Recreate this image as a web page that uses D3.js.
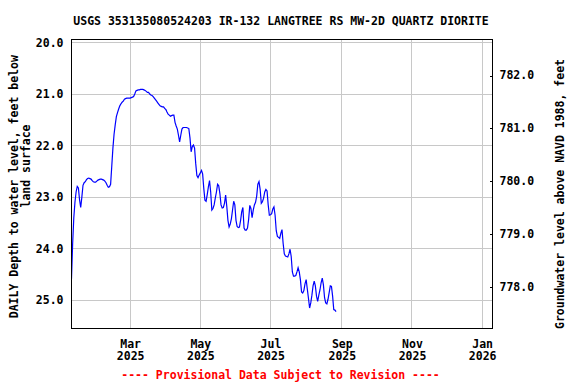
<!DOCTYPE html>
<html>
<head>
<meta charset="utf-8">
<script src="https://cdn.jsdelivr.net/npm/d3@7"></script>
<style>
  html, body { margin: 0; padding: 0; background: #ffffff; }
  svg { display: block; }
  text { font-family: "DejaVu Sans Mono", "Liberation Mono", monospace; font-weight: bold; }
</style>
</head>
<body>
<svg id="chart" width="576" height="384"></svg>
<script>
// ---- data ----
const titleText = "USGS 353135080524203 IR-132 LANGTREE RS MW-2D QUARTZ DIORITE";
const leftLabelLines = ["DAILY Depth to water level, feet below", "land surface"];
const rightLabel = "Groundwater level above NAVD 1988, feet";
const footerText = "---- Provisional Data Subject to Revision ----";

const firstDay = "2025-01-09";      // first daily value
const domainStart = "2025-01-09";
const domainEnd = "2026-01-10";

// daily depth to water (feet below land surface), one per day from firstDay
const depthValues = [
  24.58, 23.90, 23.40, 23.10, 22.90, 22.79, 22.82, 23.05, 23.20, 23.00,
  22.77, 22.72, 22.70, 22.66, 22.64, 22.63, 22.64, 22.65, 22.68, 22.70,
  22.71, 22.71, 22.69, 22.67, 22.66, 22.65, 22.65, 22.66, 22.67, 22.69,
  22.72, 22.77, 22.81, 22.80, 22.75, 22.40, 22.05, 21.78, 21.60, 21.44,
  21.36, 21.29, 21.23, 21.19, 21.16, 21.14, 21.10, 21.09, 21.08, 21.08,
  21.08, 21.08, 21.07, 21.06, 21.05, 21.00, 20.94, 20.93, 20.92, 20.92,
  20.91, 20.91, 20.91, 20.92, 20.93, 20.95, 20.97, 20.97, 21.00, 21.02,
  21.03, 21.05, 21.08, 21.11, 21.14, 21.17, 21.20, 21.23, 21.24, 21.25,
  21.25, 21.28, 21.30, 21.35, 21.39, 21.41, 21.43, 21.42, 21.41, 21.41,
  21.55, 21.62, 21.68, 21.80, 21.93, 21.80, 21.68, 21.65, 21.65, 21.65,
  21.65, 21.66, 21.67, 21.85, 22.12, 22.02, 21.99, 22.05, 22.35, 22.58,
  22.62, 22.57, 22.53, 22.48, 22.55, 22.83, 23.06, 23.08, 22.95, 22.80,
  22.68, 22.90, 23.25, 23.22, 23.15, 23.02, 22.90, 22.75, 22.78, 22.93,
  23.15, 23.21, 23.20, 23.12, 22.96, 23.18, 23.45, 23.58, 23.52, 23.42,
  23.25, 23.08, 23.15, 23.45, 23.57, 23.59, 23.58, 23.45, 23.28, 23.20,
  23.60, 23.64, 23.64, 23.60, 23.43, 23.16, 23.22, 23.40, 23.25, 23.15,
  23.10, 22.98, 22.75, 22.70, 22.85, 23.12, 23.09, 23.02, 22.90, 22.85,
  22.88, 23.15, 23.35, 23.34, 23.32, 23.23, 23.19, 23.35, 23.65, 23.76,
  23.78, 23.80, 23.70, 23.63, 23.90, 24.10, 24.14, 24.15, 24.16, 24.10,
  24.01, 24.15, 24.45, 24.53, 24.53, 24.52, 24.45, 24.37, 24.45, 24.60,
  24.84, 24.86, 24.81, 24.68, 24.60, 24.78, 24.96, 25.15, 25.05, 24.90,
  24.72, 24.63, 24.72, 24.92, 25.02, 24.90, 24.80, 24.66, 24.57, 24.70,
  24.95, 25.05, 25.07, 24.98, 24.85, 24.72, 24.73, 24.92, 25.18, 25.19,
  25.22
];

const depthTicks = [20, 21, 22, 23, 24, 25];
const elevTicks = [778, 779, 780, 781, 782];
const monthTickDates = ["2025-03-01", "2025-05-01", "2025-07-01", "2025-09-01", "2025-11-01", "2026-01-01"];
const monthTickMonths = ["Mar", "May", "Jul", "Sep", "Nov", "Jan"];
const monthTickYears = ["2025", "2025", "2025", "2025", "2025", "2026"];

// ---- layout ----
const plot = { left: 71.5, right: 492.5, top: 39.5, bottom: 328.5 };
const parse = d3.utcParse("%Y-%m-%d");

const x = d3.scaleUtc()
  .domain([parse(domainStart), parse(domainEnd)])
  .range([plot.left, plot.right]);

// depth axis (left): 21.0 -> y 94, 25.0 -> y 300.3
const yDepth = d3.scaleLinear().domain([21, 25]).range([94.0, 300.3]);
// elevation axis (right)
const yElev = d3.scaleLinear().domain([782, 778]).range([75.0, 286.7]);

const series = depthValues.map((v, i) => ({
  date: d3.utcDay.offset(parse(firstDay), i),
  value: v
}));

const svg = d3.select("#chart");
const snap = v => Math.round(v - 0.5) + 0.5;

// gridlines
const grid = svg.append("g").attr("stroke", "#c8c8c8").attr("stroke-width", 1).attr("shape-rendering", "crispEdges");
grid.selectAll("line.h").data(depthTicks).enter().append("line")
  .attr("x1", plot.left).attr("x2", plot.right)
  .attr("y1", d => snap(yDepth(d))).attr("y2", d => snap(yDepth(d)));
grid.selectAll("line.v").data(monthTickDates).enter().append("line")
  .attr("y1", plot.top).attr("y2", plot.bottom)
  .attr("x1", d => snap(x(parse(d)))).attr("x2", d => snap(x(parse(d))));

// data line
const clipId = "plotclip";
svg.append("clipPath").attr("id", clipId).append("rect")
  .attr("x", plot.left).attr("y", plot.top)
  .attr("width", plot.right - plot.left).attr("height", plot.bottom - plot.top);

svg.append("path")
  .datum(series)
  .attr("clip-path", `url(#${clipId})`)
  .attr("fill", "none")
  .attr("stroke", "#0000ff")
  .attr("stroke-width", 1.2)
  .attr("d", d3.line().x(d => x(d.date)).y(d => yDepth(d.value)));

// frame
svg.append("rect")
  .attr("x", plot.left).attr("y", plot.top)
  .attr("width", plot.right - plot.left).attr("height", plot.bottom - plot.top)
  .attr("fill", "none").attr("stroke", "#000").attr("stroke-width", 1)
  .attr("shape-rendering", "crispEdges");

const fs = "11.5px";

// left axis
const leftAxis = svg.append("g").attr("transform", `translate(${plot.left},0)`)
  .call(d3.axisLeft(yDepth).tickValues(depthTicks).tickSize(0).tickPadding(8).tickFormat(d3.format(".1f")));
leftAxis.select(".domain").remove();
leftAxis.selectAll("text").style("font-size", fs).attr("fill", "#000")
  .attr("font-family", "DejaVu Sans Mono").attr("font-weight", "bold");

// right axis (ticks pointing inward)
const rightAxis = svg.append("g").attr("transform", `translate(${plot.right},0)`)
  .call(d3.axisRight(yElev).tickValues(elevTicks).tickSize(0).tickPadding(7).tickFormat(d3.format(".1f")));
rightAxis.select(".domain").remove();
rightAxis.selectAll(".tick line").remove();
rightAxis.selectAll(".tick").append("line")
  .attr("x1", -3).attr("x2", 0).attr("y1", 0.5).attr("y2", 0.5)
  .attr("stroke", "#000").attr("shape-rendering", "crispEdges");
rightAxis.selectAll("text").style("font-size", fs).attr("fill", "#000")
  .attr("font-family", "DejaVu Sans Mono").attr("font-weight", "bold");

// bottom axis: two-line labels
const bottomAxis = svg.append("g").attr("transform", `translate(0,${plot.bottom})`)
  .call(d3.axisBottom(x).tickValues(monthTickDates.map(parse)).tickSize(0).tickFormat(""));
bottomAxis.select(".domain").remove();
bottomAxis.selectAll(".tick text").remove();
bottomAxis.selectAll(".tick").each(function(d, i) {
  const t = d3.select(this).append("text")
    .attr("text-anchor", "middle").attr("fill", "#000").style("font-size", fs);
  t.append("tspan").attr("x", 0).attr("y", 19).text(monthTickMonths[i]);
  t.append("tspan").attr("x", 0).attr("y", 31.5).text(monthTickYears[i]);
});

// title
svg.append("text").attr("x", 281).attr("y", 24.5).attr("text-anchor", "middle")
  .style("font-size", fs).attr("fill", "#000").text(titleText);

// left label (two lines)
svg.append("text").attr("transform", "translate(17.5,186.7) rotate(-90)")
  .attr("text-anchor", "middle").style("font-size", fs).attr("fill", "#000").text(leftLabelLines[0]);
svg.append("text").attr("transform", "translate(29.5,166) rotate(-90)")
  .attr("text-anchor", "middle").style("font-size", fs).attr("fill", "#000").text(leftLabelLines[1]);

// right label
svg.append("text").attr("transform", "translate(563.5,194) rotate(-90)")
  .attr("text-anchor", "middle").style("font-size", fs).attr("fill", "#000").text(rightLabel);

// footer
svg.append("text").attr("x", 280.5).attr("y", 378.5).attr("text-anchor", "middle")
  .style("font-size", fs).attr("fill", "#ff0000").text(footerText);
</script>
</body>
</html>
